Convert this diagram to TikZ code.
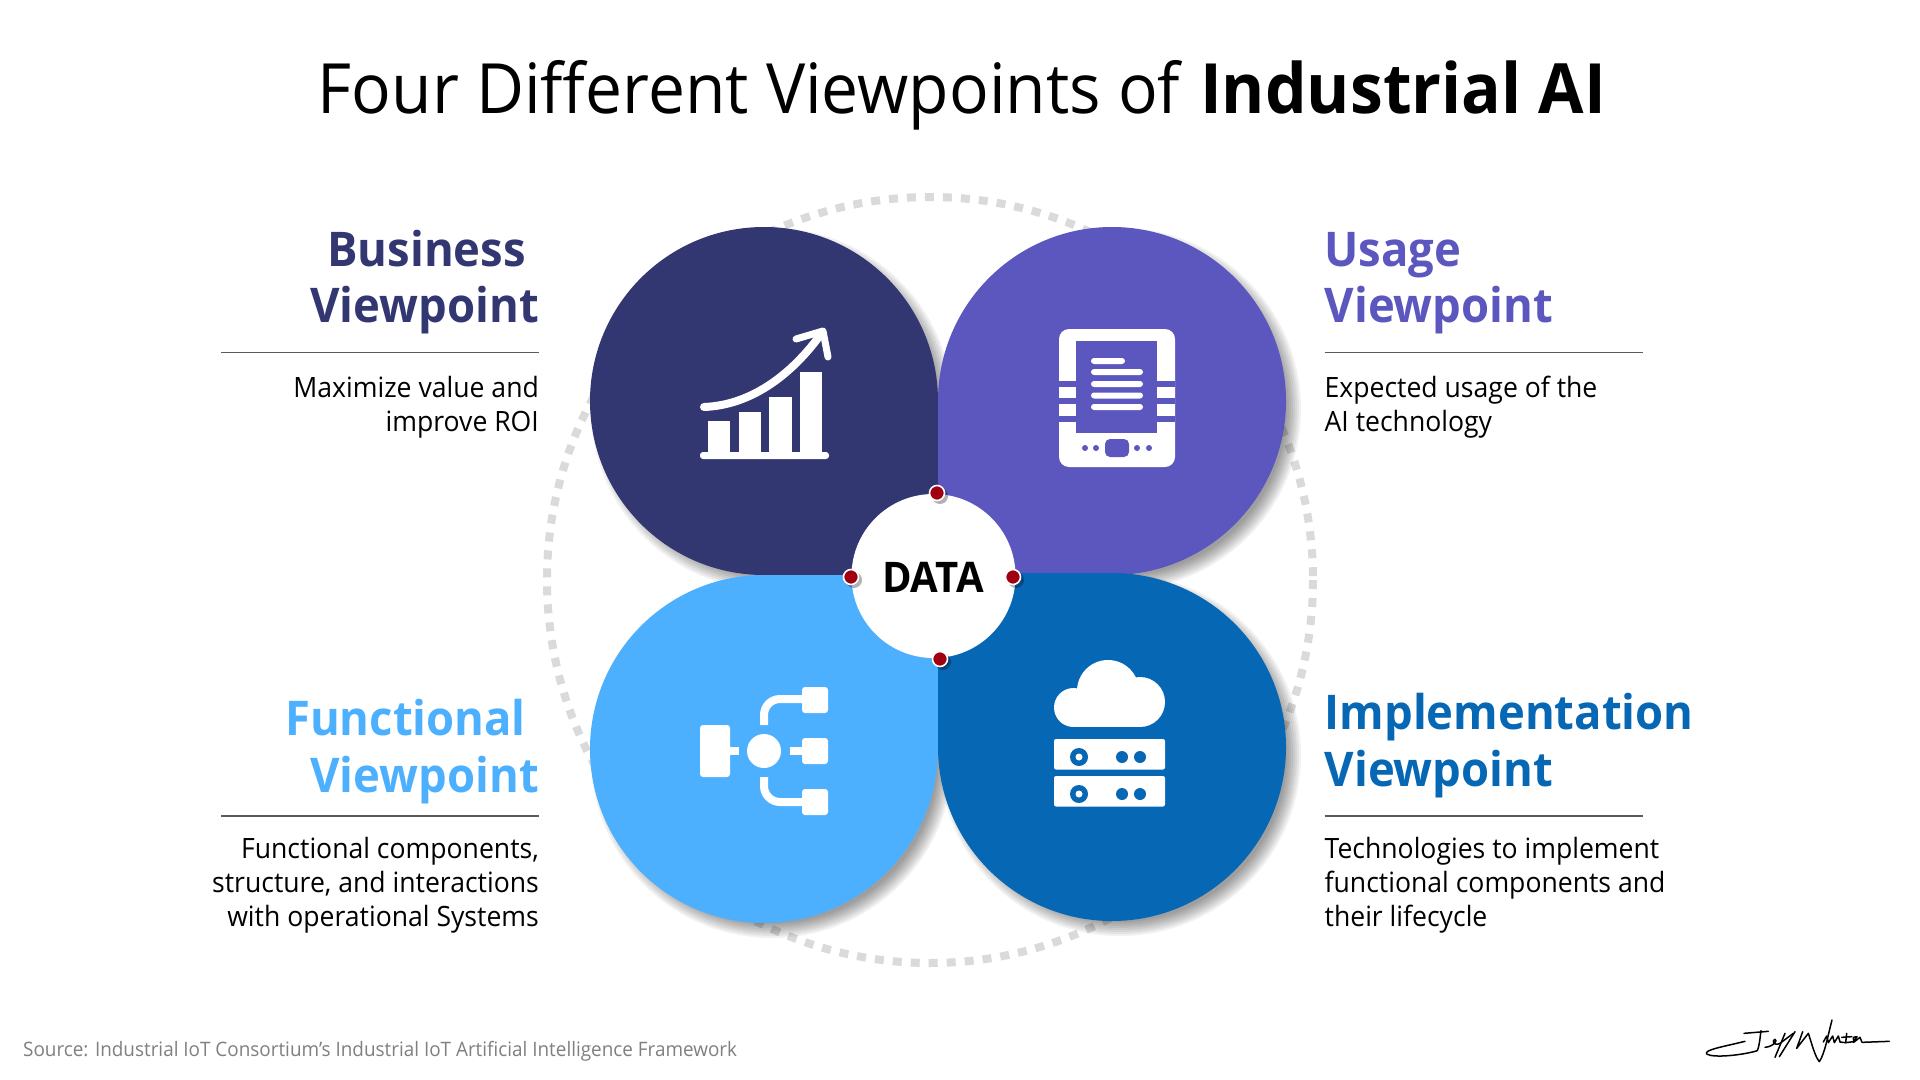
\documentclass[tikz,border=0pt]{standalone}
\usepackage{fontspec}
\setmainfont[FakeStretch=0.95]{Open Sans}
\usetikzlibrary{positioning}
\usepackage{xcolor}
\definecolor{bizcol}{HTML}{333771}
\definecolor{usecol}{HTML}{5B57BF}
\definecolor{funcol}{HTML}{4DB0FF}
\definecolor{impcol}{HTML}{0667B5}
\definecolor{ringcol}{HTML}{DADADA}
\definecolor{dotcol}{HTML}{A00010}
\def\unit{0.05cm}
% Petalo: angolo vivo in basso a destra, raggio #1
\newcommand{\petalpath}[1]{
    (#1,#1) -- (#1,0) .. controls (#1,{-0.5523*#1}) and ({0.5523*#1},-#1) .. (0,-#1)
    .. controls ({-0.5523*#1},-#1) and (-#1,{-0.5523*#1}) .. (-#1,0)
    .. controls (-#1,{0.5523*#1}) and ({-0.5523*#1},#1) .. (0,#1) -- cycle
}
% centro x, centro y, segno x, segno y, colore
\newcommand{\petal}[5]{
    \foreach \s in {167,169,...,181} {
        \fill[black,opacity=0.055,shift={({#1+8},{#2+8})},xscale=#3,yscale=#4] \petalpath{\s};
    }
    \fill[#5,shift={(#1,#2)},xscale=#3,yscale=#4] \petalpath{174};
}
\begin{document}
\begin{tikzpicture}[x=\unit,y=-\unit,
    headtext/.style={font=\bfseries\fontsize{68}{68}\selectfont,inner sep=0pt},
    bodytext/.style={font=\fontsize{39.8}{48.5}\selectfont,inner sep=0pt},
    rulegray/.style={draw=black!65,line width=1.4*\unit},
    reddot/.style={circle,fill=dotcol,draw=white,line width=1.6*\unit,minimum size=15*\unit,inner sep=0pt},
    thinsign/.style={black,line width=1.5*\unit,line cap=round,line join=round},
    softbox/.style={white,rounded corners=3*\unit}]
    % Fondo
    \fill[white] (0,0) rectangle (1920,1080);
    \useasboundingbox (0,0) rectangle (1920,1080);
    % Titolo
    \node[inner sep=0pt,font=\fontsize{98.7}{98.7}\selectfont] (title) at (962,95) {Four Different Viewpoints of \textbf{Industrial AI}};
    % Anello
    \draw[ringcol,line width=8*\unit,dash pattern=on 9*\unit off 9*\unit] (930,580) circle (383);
    % Petali
    \petal{764}{401}{1}{1}{bizcol}
    \petal{1112}{401}{-1}{1}{usecol}
    \petal{764}{749}{1}{-1}{funcol}
    \petal{1112}{747}{-1}{-1}{impcol}
    % Centro
    \node[circle,fill=white,minimum size=164*\unit,inner sep=0pt] (data) at (933.5,576) {};
    \node[inner sep=0pt,font=\bfseries\fontsize{60}{60}\selectfont] (datatext) at (933,577) {DATA};
    \foreach \nome/\x/\y in {dotn/937/493,dotw/851/577,dote/1013/577,dots/940/659} {
        \fill[black,opacity=0.3] ({\x+3},{\y+3}) circle (8);
        \node[reddot] (\nome) at (\x,\y) {};
    }
    % Icona grafico
    \fill[softbox] (700,452) rectangle (829,459);
    \fill[white] (708,421) rectangle (730,453);
    \fill[white] (739,412) rectangle (761,453);
    \fill[white] (769,397) rectangle (792,453);
    \fill[white] (800,372) rectangle (822,453);
    \draw[white,line width=8*\unit,line cap=round,line join=round] (704,407) .. controls (755,405) and (795,370) .. (821,334);
    \draw[white,line width=7*\unit,line cap=round,line join=round] (796,339) -- (823,331) -- (828,357);
    % Icona tablet
    \fill[white,rounded corners=10*\unit] (1059,329) rectangle (1175,467);
    \fill[usecol] (1076,341) rectangle (1157,433);
    \foreach \y in {381,398,416} {
        \fill[usecol] (1059,\y) rectangle (1076,{\y+5.5});
        \fill[usecol] (1157,\y) rectangle (1175,{\y+5.5});
    }
    \fill[softbox] (1091,358) rectangle (1125,364);
    \foreach \y in {369,381,392.5,404} {
        \fill[softbox] (1091,\y) rectangle (1143,{\y+6});
    }
    \fill[usecol,rounded corners=5*\unit] (1105,439) rectangle (1129,457);
    \foreach \x in {1085,1096,1137,1149} {
        \fill[usecol] (\x,448) circle (3);
    }
    % Icona flusso
    \fill[softbox] (700,725) rectangle (730,777);
    \fill[white] (728,747) rectangle (739,755);
    \fill[white] (764,751) circle (17);
    \fill[white] (790,747) rectangle (805,755);
    \foreach \y in {687,738,789} {
        \fill[softbox] (802,\y) rectangle (828,{\y+26});
    }
    \draw[white,line width=8*\unit,rounded corners=16*\unit] (764,725) -- (764,699) -- (804,699);
    \draw[white,line width=8*\unit,rounded corners=16*\unit] (764,777) -- (764,802) -- (804,802);
    % Icona cloud
    \fill[white] (1073.5,707.5) circle (19.5);
    \fill[white] (1108,691) circle (31);
    \fill[white] (1140,702) circle (25);
    \fill[white] (1073,700) rectangle (1142,727);
    \foreach \y in {739,776} {
        \fill[white,rounded corners=2*\unit] (1054,\y) rectangle (1165,{\y+30.5});
        \fill[impcol] (1079,{\y+18}) circle (9);
        \fill[white] (1079,{\y+18}) circle (3.5);
        \fill[impcol] (1122,{\y+18}) circle (6);
        \fill[impcol] (1140,{\y+18}) circle (6);
    }
    % Business
    \node[headtext,bizcol,anchor=base east] (bizone) at (526,266) {Business};
    \node[headtext,bizcol,anchor=base east] (biztwo) at (539,322) {Viewpoint};
    \draw[rulegray] (221,352.5) -- (539,352.5);
    \node[bodytext,anchor=north east,align=right] (biztext) at (539,376) {Maximize value and\\improve ROI};
    % Usage
    \node[headtext,usecol,anchor=base west] (useone) at (1324.5,266) {Usage};
    \node[headtext,usecol,anchor=base west] (usetwo) at (1324.5,322) {Viewpoint};
    \draw[rulegray] (1324.5,352.5) -- (1642.5,352.5);
    \node[bodytext,anchor=north west,align=left] (usetext) at (1324.5,376) {Expected usage of the\\AI technology};
    % Functional
    \node[headtext,funcol,anchor=base east] (funone) at (526,735) {Functional};
    \node[headtext,funcol,anchor=base east] (funtwo) at (539,792) {Viewpoint};
    \draw[rulegray] (221,816) -- (539,816);
    \node[bodytext,anchor=north east,align=right] (funtext) at (539,837) {Functional components,\\structure, and interactions\\with operational Systems};
    % Implementation
    \node[headtext,impcol,anchor=base west] (impone) at (1324.5,729) {Implementation};
    \node[headtext,impcol,anchor=base west] (imptwo) at (1324.5,786) {Viewpoint};
    \draw[rulegray] (1324.5,816) -- (1642.5,816);
    \node[bodytext,anchor=north west,align=left] (imptext) at (1324.5,837) {Technologies to implement\\functional components and\\their lifecycle};
    % Fonte
    \node[inner sep=0pt,anchor=base west,black!50,font=\fontsize{28.3}{28.3}\selectfont] (source) at (23,1056.5) {Source: Industrial IoT Consortium’s Industrial IoT Artificial Intelligence Framework};
    % Firma
    \begin{scope}[shift={(1680,1000)},x=\unit/3,y=-\unit/3]
        \draw[thinsign] (195,124) .. controls (130,140) and (70,150) .. (80,162) .. controls (100,175) and (190,165) .. (232,152) .. controls (240,130) and (240,110) .. (243,92);
        \draw[thinsign] (192,100) -- (265,94);
        \draw[thinsign] (255,142) .. controls (280,140) and (295,120) .. (285,118) .. controls (275,120) and (280,140) .. (300,130) -- (340,100);
        \draw[thinsign] (315,100) -- (285,172);
        \draw[thinsign] (345,95) -- (298,170);
        \draw[thinsign] (368,95) -- (350,145) -- (385,100) .. controls (395,130) and (405,170) .. (418,185) .. controls (435,160) and (445,100) .. (456,60);
        \draw[thinsign] (430,126) -- (440,108) -- (445,128) -- (458,108) -- (463,128) -- (475,108) -- (480,126) -- (497,128) -- (520,125) -- (531,110) -- (520,112) -- (521,127) -- (540,112) -- (546,127) -- (628,124);
        \draw[thinsign] (500,100) -- (497,128);
        \draw[thinsign] (485,112) -- (515,110);
    \end{scope}
\end{tikzpicture}
\end{document}
